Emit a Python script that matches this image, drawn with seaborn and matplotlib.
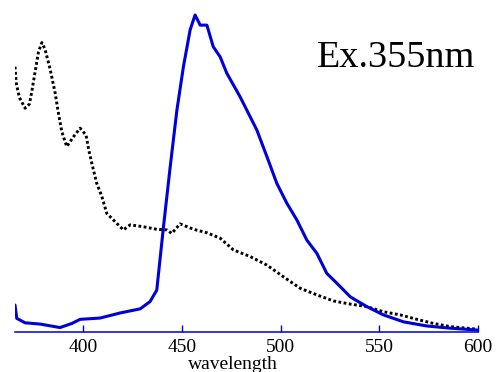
import matplotlib
matplotlib.use("Agg")
import matplotlib.pyplot as plt
import seaborn as sns
import pandas as pd

# Blue emission curve (wavelength nm, relative intensity)
blue_wl = [365.5, 366.4, 370.6, 378.2, 388.3, 394.3, 398.5, 408.6, 418.7, 428.9,
           433.9, 437.3, 440.7, 444.1, 447.5, 450.8, 454.2, 456.7, 459.3, 462.7,
           465.9, 469.4, 472.8, 479.5, 484.6, 488.0, 493.1, 498.1, 503.2, 508.3,
           513.3, 518.4, 523.4, 528.5, 535.3, 543.7, 552.1, 562.3, 574.1, 585.9, 600.0]
blue_int = [8.5, 4.3, 2.9, 2.5, 1.4, 2.7, 4.0, 4.4, 6.0, 7.3,
            9.6, 13.2, 33.2, 52.1, 70.0, 83.7, 95.3, 100.0, 96.8, 96.8,
            90.0, 86.8, 81.6, 74.2, 67.9, 63.7, 55.3, 46.9, 40.6, 35.3,
            29.0, 24.8, 18.5, 15.4, 11.1, 8.0, 5.4, 3.2, 1.9, 1.2, 0.6]

# Black dotted curve
black_wl = [365.5, 366.1, 367.7, 370.6, 372.8, 374.0, 375.7, 377.4, 379.1, 380.7,
            383.3, 385.8, 387.5, 389.2, 391.7, 395.1, 398.5, 401.5, 402.7, 404.4,
            406.9, 409.5, 412.0, 416.2, 420.4, 423.8, 430.5, 437.3, 442.4, 444.9,
            449.1, 455.9, 462.7, 469.4, 476.1, 484.6, 493.1, 501.5, 509.9, 518.4,
            526.8, 535.3, 543.7, 552.1, 560.6, 569.0, 577.5, 585.9, 599.4]
black_int = [83.7, 78.6, 74.0, 70.6, 71.9, 75.8, 82.1, 88.4, 91.3, 89.2,
             82.9, 75.5, 69.0, 63.2, 58.5, 61.6, 64.3, 62.1, 57.9, 53.2,
             46.9, 42.7, 37.4, 34.8, 32.2, 33.8, 33.2, 32.4, 32.2, 31.1,
             34.1, 32.4, 31.3, 29.6, 25.9, 23.8, 21.1, 17.4, 13.8, 11.7,
             9.8, 8.8, 8.0, 6.4, 5.4, 4.0, 2.7, 1.7, 0.9]

xticks = [400, 450, 500, 550, 600]
annotation = "Ex.355nm"
xlabel = "wavelength"

sns.set_theme(style="white")
plt.rcParams["font.family"] = ["Liberation Serif", "DejaVu Serif"]

fig = plt.figure(figsize=(4.96, 3.72), dpi=100)
ax = fig.add_axes([15 / 496, 1 - 332 / 372, 463 / 496, 332 / 372])

blue_df = pd.DataFrame({"wl": blue_wl, "I": blue_int})
black_df = pd.DataFrame({"wl": black_wl, "I": black_int})

sns.lineplot(data=black_df, x="wl", y="I", ax=ax, color="black", lw=2.1,
             estimator=None, linestyle=(0, (0.95, 0.85)), dash_capstyle="butt")
sns.lineplot(data=blue_df, x="wl", y="I", ax=ax, color="#0000d8", lw=2.2,
             estimator=None)

ax.set_xlim(365.5, 600)
ax.set_ylim(0, 332 / 3.17)
ax.set_xticks(xticks)
ax.set_xticklabels([str(t) for t in xticks])
ax.set_yticks([])

for s in ["left", "top", "right"]:
    ax.spines[s].set_visible(False)
ax.spines["bottom"].set_color("#0000d8")
ax.spines["bottom"].set_linewidth(1.1)

ax.tick_params(axis="x", direction="in", length=5, width=1, color="#0000d8",
               labelcolor="black", labelsize=14, pad=5, bottom=True)

ax.set_xlabel(xlabel, fontsize=14, color="black")
ax.xaxis.set_label_coords(0.471, -0.072)
ax.set_ylabel("")

ax.text(0.823, 0.799, annotation, transform=ax.transAxes, fontsize=27.5,
        ha="center", va="baseline", color="black")

fig.savefig("out.png", dpi=100)
